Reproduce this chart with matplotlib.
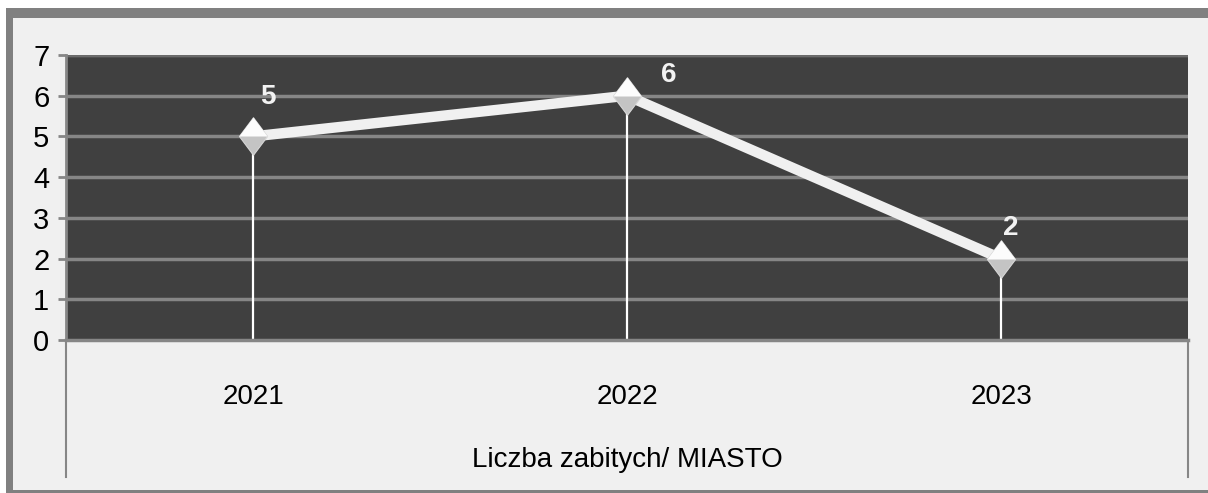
import matplotlib
matplotlib.use("Agg")
import matplotlib.pyplot as plt
from matplotlib.patches import Rectangle
from matplotlib.lines import Line2D
from matplotlib.path import Path

# data
years = ["2021", "2022", "2023"]
killed = [5, 6, 2]
y_ticks = [0, 1, 2, 3, 4, 5, 6, 7]
axis_title = "Liczba zabitych/ MIASTO"

plt.rcParams['font.family'] = ['Liberation Sans', 'DejaVu Sans']

W, H = 1208, 493
fig = plt.figure(figsize=(W / 100, H / 100), dpi=100)
fig.patch.set_facecolor("white")


def fx(px):
    return px / W


def fy(py):
    # py measured from the top of the picture
    return 1 - py / H


# outer gray frame and light inner background
fig.add_artist(Rectangle((fx(6), fy(493)), fx(1220 - 6), fy(8) - fy(493),
                         transform=fig.transFigure, facecolor="#808080", edgecolor="none", zorder=0))
fig.add_artist(Rectangle((fx(13), fy(490)), fx(1220 - 13), fy(18) - fy(490),
                         transform=fig.transFigure, facecolor="#f0f0f0", edgecolor="none", zorder=0))

# plot area
left, top, right, bottom = 66, 55, 1188, 340
ax = fig.add_axes([fx(left), fy(bottom), fx(right - left), fy(top) - fy(bottom)])
ax.set_facecolor("#404040")
ax.set_zorder(2)

x = list(range(len(years)))
ax.set_xlim(-0.5, len(years) - 0.5)
ax.set_ylim(0, 7)

# horizontal gridlines
for t in y_ticks[1:]:
    ax.axhline(t, color="#868686", lw=2.5, zorder=1)

# drop lines from points to the axis
ax.vlines(x, 0, killed, color="white", lw=1.6, zorder=2)

# main line
ax.plot(x, killed, color="#f0f0f0", lw=7.5, solid_capstyle="butt", zorder=3)

# shaded diamond markers
diamond = Path([(0, 1), (0.75, 0), (0, -1), (-0.75, 0), (0, 1)],
               [Path.MOVETO, Path.LINETO, Path.LINETO, Path.LINETO, Path.CLOSEPOLY])
upper = Path([(0, 1), (0.75, 0), (-0.75, 0), (0, 1)],
             [Path.MOVETO, Path.LINETO, Path.LINETO, Path.CLOSEPOLY])
ax.plot(x, killed, ls="none", marker=diamond, ms=27, mfc="#c4c4c4", mec="#d6d6d6", mew=0.8, zorder=4)
ax.plot(x, killed, ls="none", marker=upper, ms=27, mfc="#fcfcfc", mec="none", zorder=5)

# data labels
label_offsets = [(15, 39), (42, 21), (10, 31)]
for xi, v, off in zip(x, killed, label_offsets):
    ax.annotate(str(v), (xi, v), xytext=off, textcoords="offset pixels",
                ha="center", va="center", color="#f2f2f2", fontsize=20,
                fontweight="bold", zorder=6)

# axes styling
for s in ["top", "right"]:
    ax.spines[s].set_visible(False)
ax.spines["left"].set_color("#868686")
ax.spines["left"].set_linewidth(2)
ax.spines["bottom"].set_color("#868686")
ax.spines["bottom"].set_linewidth(2.5)
ax.axhline(7, color="#6a6a6a", lw=2, zorder=1)

ax.set_yticks(y_ticks)
ax.set_yticklabels([str(t) for t in y_ticks], fontsize=21)
ax.tick_params(axis="y", direction="out", length=6, width=2, color="#868686", pad=6)

ax.set_xticks(x)
ax.set_xticklabels(years, fontsize=20)
ax.tick_params(axis="x", length=0, pad=32)

# category axis title
fig.text(fx(627), fy(460), axis_title, ha="center", va="center", fontsize=20, color="black")

# category axis side lines below the plot area
for px in (left, right):
    fig.add_artist(Line2D([fx(px), fx(px)], [fy(bottom), fy(477)], transform=fig.transFigure,
                          color="#868686", lw=1.5))

fig.savefig("out.png", dpi=100, facecolor=fig.get_facecolor())
